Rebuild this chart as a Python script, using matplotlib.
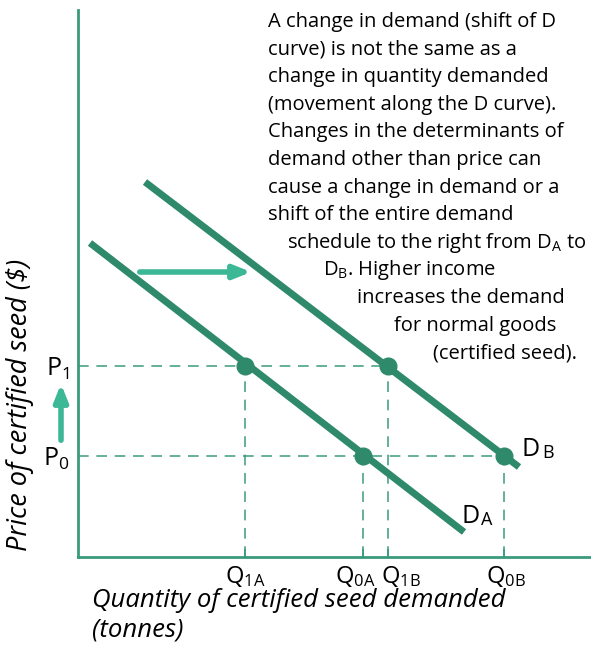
import matplotlib.pyplot as plt
from matplotlib.transforms import ScaledTranslation

plt.rcParams['font.family'] = ['Open Sans', 'DejaVu Sans']
plt.rcParams['mathtext.fontset'] = 'custom'
plt.rcParams['mathtext.rm'] = 'Open Sans'
plt.rcParams['mathtext.it'] = 'Open Sans:italic'

# demand curves (start, end) in chart units
da_x = [12, 386]
da_y = [314, 25]
db_x = [67, 441]
db_y = [375, 90]

# equilibrium-ish points
p_vals = [101, 191]
p_labels = ['P$_0$', 'P$_1$']
q_vals = [167, 285, 310, 426]
q_labels = ['Q$_{\\mathrm{1A}}$', 'Q$_{\\mathrm{0A}}$', 'Q$_{\\mathrm{1B}}$', 'Q$_{\\mathrm{0B}}$']
pts_x = [167, 285, 310, 426]
pts_y = [191, 101, 191, 101]

note_lines = [
    "A change in demand (shift of D",
    "curve) is not the same as a",
    "change in quantity demanded",
    "(movement along the D curve).",
    "Changes in the determinants of",
    "demand other than price can",
    "cause a change in demand or a",
    "shift of the entire demand",
    "schedule to the right from D$_{\\mathrm{A}}$ to",
    "D$_{\\mathrm{B}}$. Higher income",
    "increases the demand",
    "for normal goods",
    "(certified seed).",
]
note_x = [190, 190, 190, 190, 190, 190, 190, 190, 209, 245, 279, 316, 355]

dark = '#2f8a6c'
light = '#3cb896'
dash_c = '#3a9a7c'

fig = plt.figure(figsize=(5.91, 6.61), dpi=100)
ax = fig.add_axes([78 / 591, 104 / 661, 513 / 591, 547 / 661])
ax.set_xlim(0, 513)
ax.set_ylim(0, 547)

for s in ['top', 'right']:
    ax.spines[s].set_visible(False)
for s in ['left', 'bottom']:
    ax.spines[s].set_color(dash_c)
    ax.spines[s].set_linewidth(2)

# dashed guides
dash = dict(color=dash_c, lw=1.1, dashes=(7, 5))
ax.plot([0, 310], [191, 191], **dash)
ax.plot([0, 426], [101, 101], **dash)
for x, y in zip(pts_x, pts_y):
    ax.plot([x, x], [0, y], **dash)

ax.plot(da_x, da_y, color=dark, lw=5, solid_capstyle='butt')
ax.plot(db_x, db_y, color=dark, lw=5, solid_capstyle='butt')
ax.plot(pts_x, pts_y, 'o', color=dark, ms=12)

ax.set_xticks(q_vals)
ax.set_xticklabels(q_labels, fontsize=17)
ax.tick_params(axis='x', direction='in', length=6, width=1.2, color=dash_c, pad=5)
# nudge the crowded labels apart
for lab, dx in zip(ax.get_xticklabels(), [0, -8, 13, 2]):
    lab.set_transform(lab.get_transform() + ScaledTranslation(dx / 100, 0, fig.dpi_scale_trans))
ax.set_yticks(p_vals)
ax.set_yticklabels(p_labels, fontsize=18)
ax.tick_params(axis='y', length=0, pad=6)

# shift arrows
ax.annotate('', xy=(176, 285), xytext=(59, 285),
            arrowprops=dict(arrowstyle='-|>,head_length=1.0,head_width=0.4', color=light, lw=4))
ax.annotate('', xy=(-17, 176), xytext=(-17, 114), annotation_clip=False,
            arrowprops=dict(arrowstyle='-|>,head_length=1.0,head_width=0.4', color=light, lw=4))

ax.text(443, 95, 'D', fontsize=18, va='bottom')
ax.text(464, 95, 'B', fontsize=13, va='bottom')
ax.text(384, 28, 'D', fontsize=18, va='bottom')
ax.text(403, 28, 'A', fontsize=13, va='bottom')

for i, (t, x) in enumerate(zip(note_lines, note_x)):
    ax.text(x, 535 - i * 27.6, t, fontsize=14.5, va='center')

ax.set_ylabel('Price of certified seed ($)', fontsize=19.5, style='italic')
ax.yaxis.set_label_coords(-0.085, 0.278)
fig.text(92 / 591, 1 - 615 / 661, 'Quantity of certified seed demanded\n(tonnes)',
         fontsize=18.5, style='italic', va='center', ha='left', linespacing=1.25)

fig.savefig('out.png', dpi=100)
